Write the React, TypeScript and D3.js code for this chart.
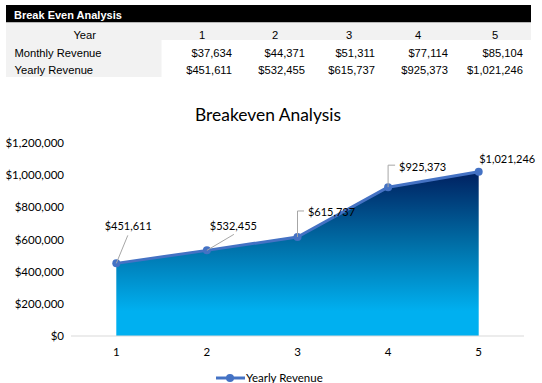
import React from "react";
import * as d3 from "d3";

const years = ["1", "2", "3", "4", "5"];
const monthlyRevenue = [37634, 44371, 51311, 77114, 85104];
const yearlyRevenue = [451611, 532455, 615737, 925373, 1021246];
const yTicks = [0, 200000, 400000, 600000, 800000, 1000000, 1200000];
const seriesName = "Yearly Revenue";

const fmt = (v: number) => "$" + d3.format(",")(v);

export default function App() {
  const W = 542, H = 383;
  const x = d3.scaleBand<string>().domain(years).range([71, 524]);
  const cx = (c: string) => (x(c) as number) + x.bandwidth() / 2;
  const y = d3.scaleLinear().domain([0, 1200000]).range([336, 143]);
  const pts: [number, number][] = years.map((c, i) => [cx(c), y(yearlyRevenue[i])]);
  const area = d3.area<[number, number]>().x(d => d[0]).y0(y(0)).y1(d => d[1])(pts) as string;
  const line = d3.line<[number, number]>().x(d => d[0]).y(d => d[1])(pts) as string;

  // table columns (right edges of values, centers of year headers)
  const colRight = [232, 305, 375, 448, 523];
  const colCenter = [202, 275, 349, 418, 495];
  const tf = "'Liberation Sans', Arial, sans-serif";
  const cf = "Lato, 'Open Sans', sans-serif";

  // label placement offsets relative to point (text center x, text center y)
  const labels = [
    { dx: 12, dy: -37.5, leader: [[0, 0], [11.5, -28]] },
    { dx: 26.5, dy: -24.5, leader: [[0, 0], [27, -16]] },
    { dx: 34, dy: -24.5, leader: [[0, 0], [0, -26], [6.5, -26]] },
    { dx: 34.5, dy: -20.5, leader: [[0, 0], [0, -22], [7, -22]] },
    { dx: 28.5, dy: -12.5, leader: null },
  ];

  return (
    <svg width={W} height={H} style={{ position: "absolute", left: 0, top: 0 }}>
      <defs>
        <linearGradient id="ag" x1="0" y1={y(1021246)} x2="0" y2={y(0)} gradientUnits="userSpaceOnUse">
          <stop offset="0" stopColor="#002060" />
          <stop offset="0.45" stopColor="#0070a8" />
          <stop offset="0.85" stopColor="#00b0f0" />
          <stop offset="1" stopColor="#00b0f0" />
        </linearGradient>
      </defs>
      <rect width={W} height={H} fill="#fff" />
      {/* table */}
      <rect x={6} y={5} width={525} height={17.5} fill="#000" />
      <text x={14} y={18.5} fill="#fff" fontFamily={tf} fontWeight="bold" fontSize={11}>Break Even Analysis</text>
      <rect x={6} y={22.5} width={525} height={17.5} fill="#f2f2f2" />
      <rect x={6} y={40} width={155.5} height={37} fill="#f2f2f2" />
      <text x={96} y={39} textAnchor="end" fontFamily={tf} fontSize={11.2} fill="#000">Year</text>
      {years.map((c, i) => (
        <text key={"h" + c} x={colCenter[i]} y={39} textAnchor="middle" fontFamily={tf} fontSize={11.2}>{c}</text>
      ))}
      <text x={14.5} y={56.5} fontFamily={tf} fontSize={11.2}>Monthly Revenue</text>
      <text x={14.5} y={74} fontFamily={tf} fontSize={11.2}>Yearly Revenue</text>
      {monthlyRevenue.map((v, i) => (
        <text key={"m" + i} x={colRight[i]} y={56.5} textAnchor="end" fontFamily={tf} fontSize={11.2}>{fmt(v)}</text>
      ))}
      {yearlyRevenue.map((v, i) => (
        <text key={"y" + i} x={colRight[i]} y={74} textAnchor="end" fontFamily={tf} fontSize={11.2}>{fmt(v)}</text>
      ))}
      {/* chart title */}
      <text x={268} y={121} textAnchor="middle" fontFamily={cf} fontSize={17.4} fill="#000">Breakeven Analysis</text>
      {/* y axis labels */}
      {yTicks.map(t => (
        <text key={t} x={64} y={y(t) + 4} textAnchor="end" fontFamily={cf} fontSize={11.5} fill="#000">{fmt(t)}</text>
      ))}
      {/* area */}
      <path d={area} fill="url(#ag)" />
      {/* baseline */}
      <line x1={71} x2={524} y1={y(0)} y2={y(0)} stroke="#d9d9d9" strokeWidth={1} />
      {/* line */}
      <path d={line} fill="none" stroke="#4472c4" strokeWidth={3} strokeLinejoin="round" />
      {pts.map((p, i) => (
        <circle key={i} cx={p[0]} cy={p[1]} r={4} fill="#4472c4" />
      ))}
      {/* leaders and data labels */}
      {pts.map((p, i) => {
        const L = labels[i];
        return (
          <g key={"l" + i}>
            {L.leader && (
              <polyline
                points={L.leader.map(q => `${p[0] + q[0]},${p[1] + q[1]}`).join(" ")}
                fill="none" stroke="#a6a6a6" strokeWidth={1}
              />
            )}
            <text x={p[0] + L.dx} y={p[1] + L.dy + 4} textAnchor="middle" fontFamily={cf} fontSize={11} fill="#000">{fmt(yearlyRevenue[i])}</text>
          </g>
        );
      })}
      {/* x labels */}
      {years.map(c => (
        <text key={"x" + c} x={cx(c)} y={356} textAnchor="middle" fontFamily={cf} fontSize={11.5}>{c}</text>
      ))}
      {/* legend */}
      <line x1={216} x2={245} y1={378} y2={378} stroke="#4472c4" strokeWidth={3} />
      <circle cx={230} cy={378} r={4} fill="#4472c4" />
      <text x={246} y={382} fontFamily={cf} fontSize={11.5}>{seriesName}</text>
    </svg>
  );
}
